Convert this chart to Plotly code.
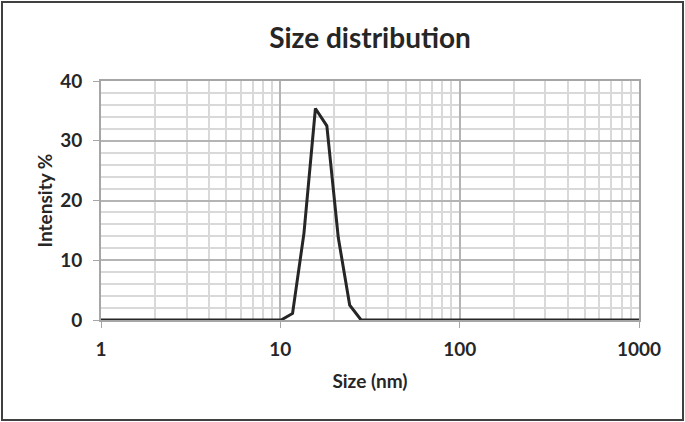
import plotly.graph_objects as go

# Zetasizer size bins (nm) and intensity (%)
size_nm = [0.4, 0.4632, 0.5365, 0.6213, 0.7195, 0.8332, 0.9649, 1.117, 1.294,
           1.499, 1.736, 2.01, 2.328, 2.696, 3.122, 3.615, 4.187, 4.849, 5.615,
           6.503, 7.531, 8.721, 10.1, 11.7, 13.54, 15.69, 18.17, 21.04, 24.36,
           28.21, 32.67, 37.84, 43.82, 50.75, 58.77, 68.06, 78.82, 91.28, 105.7,
           122.4, 141.8, 164.2, 190.1, 220.2, 255.0, 295.3, 342.0, 396.1, 458.7,
           531.2, 615.1, 712.4, 825.0, 955.4, 1106.0, 1281.0]
intensity = [0] * 23 + [1.1, 14.5, 35.4, 32.5, 13.8, 2.5] + [0] * 27

y_ticks = [0, 10, 20, 30, 40]
x_ticks = [1, 10, 100, 1000]
x_minor = [m * d for d in (1, 10, 100) for m in range(2, 10)]

W, H = 685, 422
ML, MR, MT, MB = 101, 46, 81, 102
pw, ph = W - ML - MR, H - MT - MB

font_fam = "Lato, 'Open Sans', sans-serif"
txt = "#262626"

fig = go.Figure()
fig.add_trace(
    go.Scatter(
        x=size_nm,
        y=intensity,
        mode="lines",
        line={"color": "#262626", "width": 3},
        showlegend=False,
        cliponaxis=True,
    )
)

fig.update_layout(
    width=W,
    height=H,
    margin={"l": ML, "r": MR, "t": MT, "b": MB},
    paper_bgcolor="white",
    plot_bgcolor="white",
    font={"family": font_fam, "color": txt},
    title={
        "text": "<b>Size distribution</b>",
        "xref": "paper",
        "x": 0.5,
        "xanchor": "center",
        "y": 1 - 38 / H,
        "yanchor": "middle",
        "font": {"size": 28, "color": txt, "family": font_fam},
    },
    xaxis={
        "type": "log",
        "range": [0, 3],
        "tickvals": x_ticks,
        "ticktext": [f"<b>{v}</b>" for v in x_ticks],
        "tickfont": {"size": 19, "color": txt},
        "ticks": "outside",
        "ticklen": 6,
        "tickcolor": "#a6a6a6",
        "ticklabelstandoff": 5,
        "showline": True,
        "linecolor": "#a6a6a6",
        "linewidth": 2,
        "mirror": True,
        "showgrid": True,
        "gridcolor": "#b4b4b4",
        "gridwidth": 1.5,
        "minor": {
            "tickvals": x_minor,
            "showgrid": True,
            "gridcolor": "#d9d9d9",
            "gridwidth": 1.5,
            "ticks": "",
        },
        "zeroline": False,
        "title": {
            "text": "<b>Size (nm)</b>",
            "font": {"size": 19, "color": txt},
            "standoff": 16,
        },
    },
    yaxis={
        "range": [0, 40],
        "tickvals": y_ticks,
        "ticktext": [f"<b>{v}</b>" for v in y_ticks],
        "tickfont": {"size": 19, "color": txt},
        "ticks": "outside",
        "ticklen": 6,
        "tickcolor": "#a6a6a6",
        "ticklabelstandoff": 7,
        "showline": True,
        "linecolor": "#a6a6a6",
        "linewidth": 2,
        "mirror": True,
        "showgrid": True,
        "gridcolor": "#b4b4b4",
        "gridwidth": 1.5,
        "minor": {
            "dtick": 2,
            "showgrid": True,
            "gridcolor": "#d9d9d9",
            "gridwidth": 1.5,
            "ticks": "",
        },
        "zeroline": False,
        "title": {
            "text": "<b>Intensity %</b>",
            "font": {"size": 19, "color": txt},
            "standoff": 3,
        },
    },
)

# outer chart border
fig.add_shape(
    type="rect",
    xref="paper",
    yref="paper",
    x0=(2 - ML) / pw,
    x1=(683 - ML) / pw,
    y0=-(420 - MT - ph) / ph,
    y1=1 + (MT - 2) / ph,
    line={"color": "#404040", "width": 2},
    layer="above",
)

fig.write_html(
    "out.html",
    config={"displayModeBar": False},
    post_script="document.body.style.margin='0';",
)
